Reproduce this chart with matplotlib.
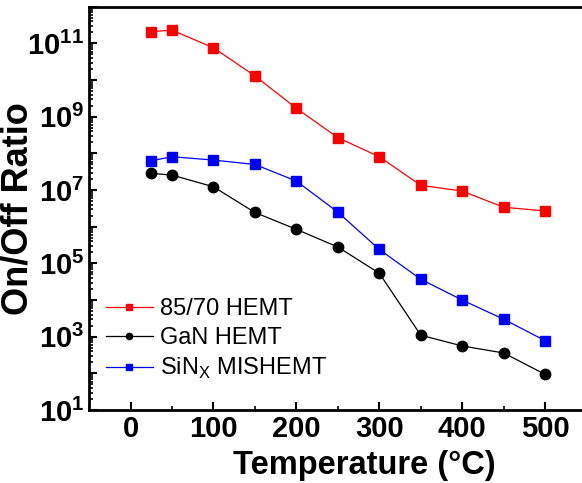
import numpy as np
import matplotlib.pyplot as plt
from matplotlib.ticker import LogLocator, NullFormatter, MultipleLocator

plt.rcParams['font.family'] = ['Liberation Sans', 'DejaVu Sans']
plt.rcParams['mathtext.fontset'] = 'custom'
plt.rcParams['mathtext.rm'] = 'Liberation Sans'
plt.rcParams['mathtext.bf'] = 'Liberation Sans:bold'

# temperature sweep (deg C)
temp = [25, 50, 100, 150, 200, 250, 300, 350, 400, 450, 500]

# on/off ratios for each device
ratio_8570 = [2.1e11, 2.3e11, 7.6e10, 1.3e10, 1.7e9, 2.7e8, 8.1e7, 1.35e7, 9.4e6, 3.4e6, 2.7e6]
ratio_gan = [2.85e7, 2.57e7, 1.23e7, 2.45e6, 8.5e5, 2.8e5, 5.4e4, 1.1e3, 5.6e2, 3.6e2, 94]
ratio_sin = [6.3e7, 8.1e7, 6.6e7, 5.0e7, 1.76e7, 2.5e6, 2.4e5, 3.7e4, 1.0e4, 3.0e3, 7.8e2]

labels = ['85/70 HEMT', 'GaN HEMT', r'SiN$_\mathregular{X}$ MISHEMT']

fig = plt.figure(figsize=(5.82, 4.83), dpi=100)
ax = fig.add_axes([0.153, 0.151, 0.855, 0.835])

ax.plot(temp, ratio_8570, color='red', lw=0.9, marker='s', ms=7.5, label=labels[0])
ax.plot(temp, ratio_gan, color='black', lw=0.9, marker='o', ms=7.5, label=labels[1])
ax.plot(temp, ratio_sin, color='blue', lw=0.9, marker='s', ms=7.5, label=labels[2])

ax.set_yscale('log')
ax.set_xlim(-50, 550)
ax.set_ylim(1e1, 1e12)

ax.xaxis.set_major_locator(MultipleLocator(100))
ax.xaxis.set_minor_locator(MultipleLocator(50))
ax.yaxis.set_minor_locator(LogLocator(base=10, subs=np.arange(2, 10), numticks=20))
ax.yaxis.set_minor_formatter(NullFormatter())

exps = list(range(1, 13))
ax.set_yticks([10.0 ** k for k in exps])
ax.set_yticklabels([r'$\mathbf{10^{%d}}$' % k if k % 2 == 1 else '' for k in exps])

ax.tick_params(axis='both', which='major', direction='in', length=6, width=1.5, labelsize=21)
ax.tick_params(axis='both', which='minor', direction='in', length=3, width=1.2)
for lbl in ax.get_xticklabels():
    lbl.set_fontweight('bold')

for side in ['left', 'bottom', 'top']:
    ax.spines[side].set_linewidth(2)
ax.spines['right'].set_visible(False)

ax.set_xlabel('Temperature (°C)', fontsize=23.5, fontweight='bold')
ax.set_ylabel('On/Off Ratio', fontsize=26, fontweight='bold')
ax.xaxis.set_label_coords(0.553, -0.1)
ax.yaxis.set_label_coords(-0.107, 0.5)

leg = ax.legend(loc='lower left', bbox_to_anchor=(0.0, 0.03), frameon=False, fontsize=17,
                markerscale=0.6, handlelength=2.0, handletextpad=0.3, labelspacing=0.3,
                borderaxespad=0.3)
for line in leg.get_lines():
    line.set_linewidth(0.9)

fig.savefig('out.png', dpi=100)
